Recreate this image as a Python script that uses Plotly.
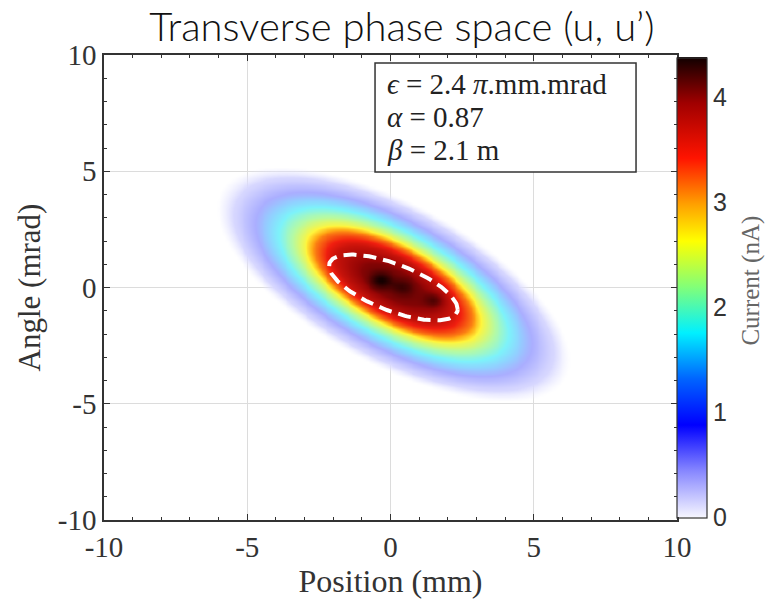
import numpy as np
import plotly.graph_objects as go

# ---- values shown on the chart ----
emittance = 2.4      # pi.mm.mrad
alpha = 0.87
beta = 2.1           # m
current_max = 4.38   # nA (top of colour bar)

# ---- beam distribution ----
halo_alpha = 0.845
halo_beta = 1.595
halo_emit = 19.0
center_u = 0.1
center_up = 0.15
profile_r = [0.0, 0.2, 0.37, 0.5, 0.56, 0.64, 0.73, 0.85, 1.0, 1.12]
profile_i = [4.15, 4.0, 3.65, 3.1, 2.6, 2.2, 1.75, 1.0, 0.3, 0.0]
spot_u = [-0.37, 1.55, 0.45]
spot_up = [0.32, -0.54, 0.05]
spot_amp = [0.3, 0.3, 0.15]

x_ticks = [-10, -5, 0, 5, 10]
x_labels = ["-10", "-5", "0", "5", "10"]
y_ticks = [-10, -5, 0, 5, 10]
y_labels = ["-10", "-5", "0", "5", "10"]
cbar_ticks = [0, 1, 2, 3, 4]

# grid
u = np.linspace(-10, 10, 201)
up = np.linspace(-10, 10, 201)
U, UP = np.meshgrid(u, up)
hg = (1 + halo_alpha ** 2) / halo_beta
du = U - center_u
dup = UP - center_up
J = hg * du ** 2 + 2 * halo_alpha * du * dup + halo_beta * dup ** 2
rho = np.sqrt(J / halo_emit)
Z = np.interp(rho, profile_r, profile_i)
for su, sp, sa in zip(spot_u, spot_up, spot_amp):
    Z = Z + sa * np.exp(-((U - su) ** 2 + (UP - sp) ** 2) / (2 * 0.25 ** 2)) * (rho < 0.5)
Z = np.minimum(Z, current_max)

plot_scale = [
    [0.0, "rgba(235,235,255,0)"],
    [0.06, "rgba(215,215,255,1)"],
    [0.2, "rgb(170,174,255)"],
    [0.3, "rgb(145,208,255)"],
    [0.4, "rgb(125,242,250)"],
    [0.5, "rgb(180,250,165)"],
    [0.6, "rgb(255,245,60)"],
    [0.68, "rgb(255,165,20)"],
    [0.78, "rgb(240,30,15)"],
    [0.9, "rgb(150,5,5)"],
    [1.0, "rgb(20,0,0)"],
]
bar_scale = [
    [0.0, "rgb(245,245,255)"],
    [0.1, "rgb(135,135,255)"],
    [0.2, "rgb(0,0,255)"],
    [0.3, "rgb(0,100,255)"],
    [0.4, "rgb(0,240,255)"],
    [0.5, "rgb(130,255,120)"],
    [0.6, "rgb(255,255,0)"],
    [0.68, "rgb(255,160,0)"],
    [0.78, "rgb(255,20,0)"],
    [0.9, "rgb(160,0,0)"],
    [1.0, "rgb(15,0,0)"],
]

fig = go.Figure()
# invisible trace carrying the colour bar
fig.add_trace(go.Heatmap(
    x=u, y=up, z=Z, zmin=0, zmax=current_max, colorscale=bar_scale, opacity=0,
    hoverinfo="skip",
    colorbar=dict(
        x=1.0, xanchor="left", xpad=0, y=0.5, yanchor="middle", len=0.99, ypad=0,
        thickness=30, outlinewidth=1.2, outlinecolor="#333", ticks="",
        tickvals=cbar_ticks, tickfont=dict(family="Liberation Sans", size=25, color="#333"),
    ),
))
fig.add_trace(go.Heatmap(
    x=u, y=up, z=Z, zmin=0, zmax=current_max, colorscale=plot_scale,
    zsmooth="best", showscale=False,
))

# emittance ellipse
gam = (1 + alpha ** 2) / beta
t = np.linspace(0, 2 * np.pi, 200)
eu = np.sqrt(emittance * beta) * np.cos(t)
eup = -np.sqrt(emittance / beta) * (alpha * np.cos(t) - np.sin(t))
fig.add_trace(go.Scatter(
    x=eu + center_u, y=eup, mode="lines",
    line=dict(color="white", width=4, dash="13px,7px"), hoverinfo="skip",
))

# colour bar title
fig.add_annotation(xref="paper", yref="paper", x=1.13, y=0.516, xanchor="center", yanchor="middle",
                   textangle=-90, showarrow=False, text="Current (nA)",
                   font=dict(family="Liberation Serif", size=25, color="#666"))

# parameter box
fig.add_shape(type="rect", xref="x", yref="y", x0=-0.54, x1=8.57, y0=4.97, y1=9.66,
              line=dict(color="#333", width=1.5), fillcolor="white", layer="above")
box_lines = [
    f"<i>ϵ</i> = {emittance} <i>π</i>.mm.mrad",
    f"<i>α</i> = {alpha}",
    f"<i>β</i> = {beta} m",
]
box_y = [8.75, 7.33, 5.91]
for txt, yy in zip(box_lines, box_y):
    fig.add_annotation(xref="x", yref="y", x=-0.2, y=yy, xanchor="left", yanchor="middle",
                       showarrow=False, text=txt,
                       font=dict(family="Liberation Serif", size=29, color="#222"))

axis_common = dict(
    range=[-10, 10], showline=True, linecolor="#333", linewidth=1.5,
    mirror="allticks", ticks="inside", ticklen=6, tickcolor="#333",
    showgrid=True, gridcolor="#dcdcdc", gridwidth=1, zeroline=False,
    minor=dict(dtick=1, ticks="inside", ticklen=3, tickcolor="#333", showgrid=False),
    tickfont=dict(family="Liberation Serif", size=29, color="#333"),
)
fig.update_xaxes(**axis_common, tickvals=x_ticks, ticktext=x_labels,
                 title=dict(text="Position (mm)", font=dict(family="Liberation Serif", size=32, color="#333"),
                            standoff=6))
fig.update_yaxes(**axis_common, tickvals=y_ticks, ticktext=y_labels,
                 title=dict(text="Angle (mrad)", font=dict(family="Liberation Serif", size=31, color="#333"),
                            standoff=8))

fig.update_layout(
    width=767, height=606,
    margin=dict(l=104, r=90, t=55, b=86, autoexpand=False),
    paper_bgcolor="white", plot_bgcolor="white",
    showlegend=False,
    title=dict(text="Transverse phase space (u, u’)", x=0.524, xanchor="center",
               y=0.955, yanchor="middle", yref="container",
               font=dict(family="Lato", size=40, color="#111", weight=300)),
)

fig.write_html("out.html")
